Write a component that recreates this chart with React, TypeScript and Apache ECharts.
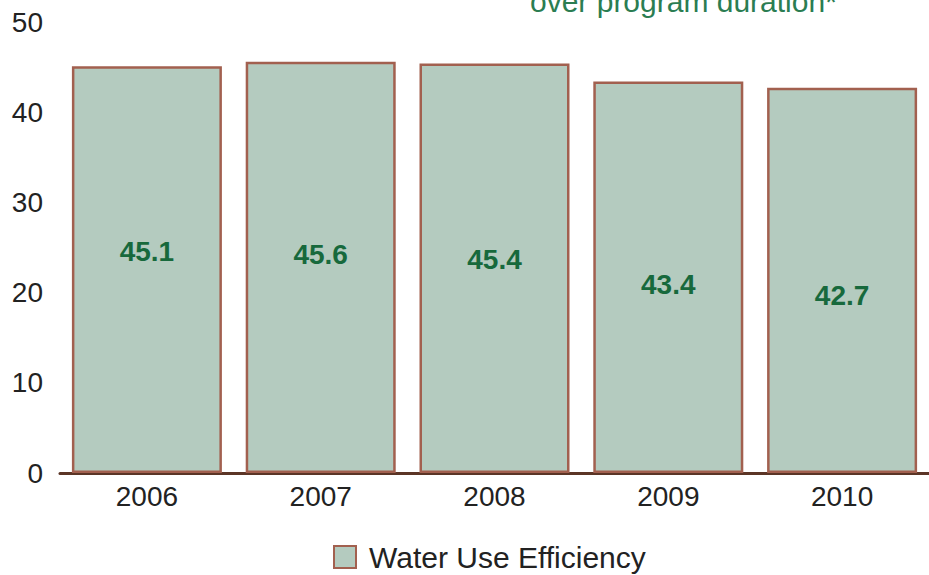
import React, { useEffect, useRef } from "react";
import * as echarts from "echarts";

const categories = ["2006", "2007", "2008", "2009", "2010"];
const values = [45.1, 45.6, 45.4, 43.4, 42.7];
const yTicks = [0, 10, 20, 30, 40, 50];
const seriesName = "Water Use Efficiency";
const noteText = "over program duration*";
// vertical nudges for the value labels (styling only)
const labelNudge = [-18, -13, -9, 7, 15];

export default function App() {
  const ref = useRef<HTMLDivElement>(null);
  useEffect(() => {
    if (!ref.current) return;
    const chart = echarts.init(ref.current, undefined, { renderer: "svg" });
    const font = "'Liberation Sans', Arial, sans-serif";
    chart.setOption({
      animation: false,
      backgroundColor: "#ffffff",
      grid: { left: 60, right: -1, top: 22, bottom: 102, containLabel: false },
      xAxis: {
        type: "category",
        data: categories,
        axisLine: { show: true, lineStyle: { color: "#5b3526", width: 3 } },
        axisTick: { show: false },
        axisLabel: { color: "#222", fontSize: 28, fontFamily: font, margin: 9 },
      },
      yAxis: {
        type: "value",
        min: yTicks[0],
        max: yTicks[yTicks.length - 1],
        interval: 10,
        axisLine: { show: false },
        axisTick: { show: false },
        splitLine: { show: false },
        axisLabel: { color: "#222", fontSize: 28, fontFamily: font, margin: 17 },
      },
      legend: {
        left: 333,
        top: 542,
        padding: 0,
        icon: "rect",
        itemWidth: 22,
        itemHeight: 22,
        itemGap: 10,
        textStyle: { color: "#222", fontSize: 30, fontFamily: font, padding: [0, 0, 0, 8] },
        data: [seriesName],
      },
      graphic: [
        {
          type: "text",
          left: 530,
          top: -14,
          style: {
            text: noteText,
            fill: "#2b7d52",
            font: `30px ${font}`,
          },
        },
      ],
      series: [
        {
          name: seriesName,
          type: "bar",
          barWidth: 150,
          data: values.map((v, i) => ({
            value: v,
            label: { offset: [0, labelNudge[i]] },
          })),
          itemStyle: { color: "#b4cbbf", borderColor: "#a2604f", borderWidth: 2.5 },
          label: {
            show: true,
            position: "inside",
            color: "#17693c",
            fontSize: 28,
            fontWeight: "bold",
            fontFamily: font,
          },
        },
      ],
    });
    return () => chart.dispose();
  }, []);
  return (
    <div
      ref={ref}
      style={{ position: "absolute", left: 0, top: 0, width: 929, height: 575 }}
    />
  );
}
